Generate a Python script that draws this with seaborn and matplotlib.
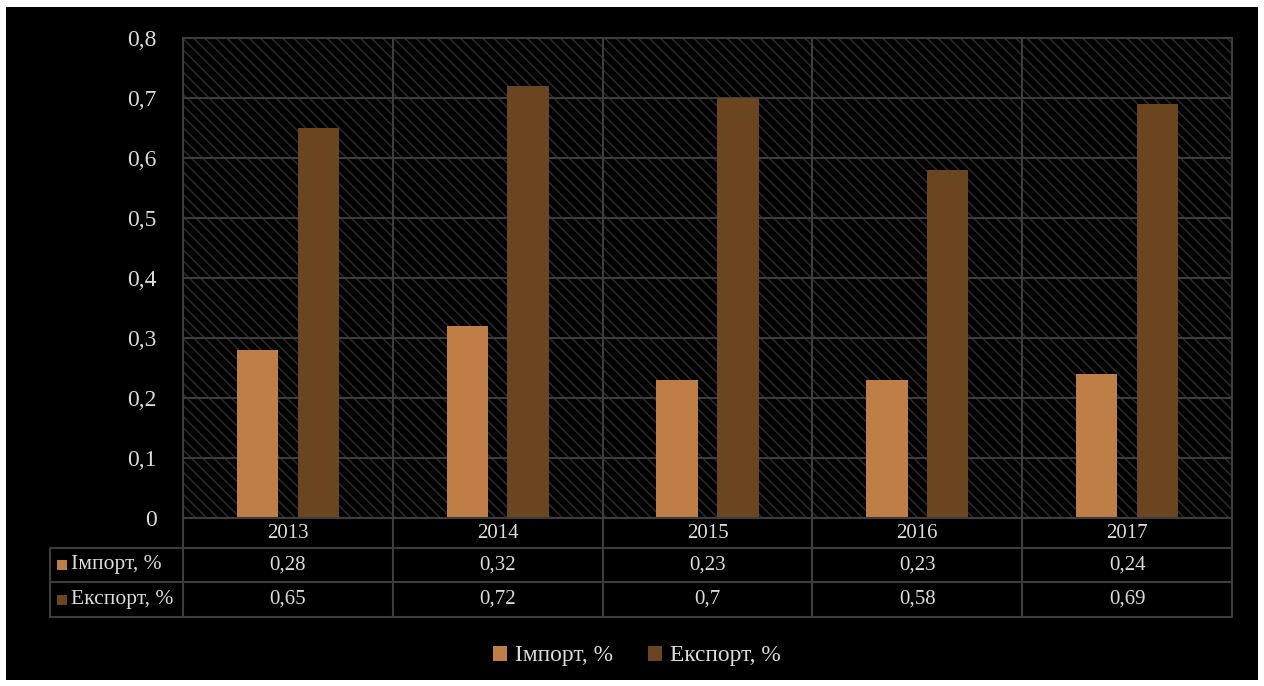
import matplotlib
matplotlib.use("Agg")
import matplotlib.pyplot as plt
import matplotlib.transforms as mtransforms
from matplotlib.patches import Rectangle, Patch
from matplotlib.lines import Line2D
import numpy as np
import pandas as pd
import seaborn as sns

# ---- data ----
years = ["2013", "2014", "2015", "2016", "2017"]
import_pct = [0.28, 0.32, 0.23, 0.23, 0.24]
export_pct = [0.65, 0.72, 0.70, 0.58, 0.69]
series_names = ["Імпорт, %", "Експорт, %"]
y_ticks = [0, 0.1, 0.2, 0.3, 0.4, 0.5, 0.6, 0.7, 0.8]

# ---- style ----
sns.set_theme(style="dark")
plt.rcParams["font.family"] = ["Liberation Serif", "DejaVu Serif"]
plt.rcParams["hatch.linewidth"] = 1.1

TXT = "#dcdcdc"
GRID = "#3d3d3d"
HATCH = "#2b2b2b"
palette = {series_names[0]: "#BE7E46", series_names[1]: "#6B451F"}
FS = 15

W, H = 1264, 686
fig = plt.figure(figsize=(W / 100, H / 100), dpi=100, facecolor="white")


def fy(px):
    """pixel row (from top) -> figure fraction"""
    return 1 - px / H


def fx(px):
    return px / W


# black chart area
fig.patches.append(Rectangle((fx(6), fy(680)), fx(1258) - fx(6), fy(7) - fy(680),
                             transform=fig.transFigure, facecolor="black",
                             edgecolor="none", zorder=-5))

left, right, top, bottom = 183, 1232, 38, 518
ax = fig.add_axes([fx(left), fy(bottom), fx(right) - fx(left), fy(top) - fy(bottom)])
ax.set_zorder(2)
ax.set_facecolor("black")
ax.add_patch(Rectangle((0, 0), 1, 1, transform=ax.transAxes, facecolor="black",
                       edgecolor=HATCH, hatch="\\\\\\", linewidth=0, zorder=0.1))

df = pd.DataFrame({
    "year": years * 2,
    "value": import_pct + export_pct,
    "series": [series_names[0]] * len(years) + [series_names[1]] * len(years),
})
sns.barplot(data=df, x="year", y="value", hue="series", hue_order=series_names,
            palette=palette, width=0.58, gap=0.32, saturation=1,
            ax=ax, legend=False, zorder=2, edgecolor="none")

ax.set_xlim(-0.5, len(years) - 0.5)
ax.set_ylim(0, 0.8)
ax.set_yticks(y_ticks)
ax.set_yticklabels([f"{v:g}".replace(".", ",") for v in y_ticks], color=TXT, fontsize=17)
ax.tick_params(axis="y", length=0, pad=19)
ax.set_xticks(np.arange(-0.5, len(years), 1.0))
ax.set_xticklabels([])
ax.tick_params(axis="x", length=0)
ax.set_xlabel("")
ax.set_ylabel("")
ax.set_axisbelow(True)
ax.grid(True, axis="both", color=GRID, linewidth=1.5, zorder=0.5)
for s in ax.spines.values():
    s.set_color(GRID)
    s.set_linewidth(1.5)

# ---- data table under the axis ----
tr = mtransforms.blended_transform_factory(ax.transData, fig.transFigure)
row_edges = [518, 548, 582, 617]
label_left = -0.5 - (left - 50) / ((right - left) / len(years))
line_kw = dict(color=GRID, linewidth=1.5, transform=tr, clip_on=False)

for yb in row_edges[1:]:
    fig.add_artist(Line2D([label_left, len(years) - 0.5], [fy(yb), fy(yb)], **line_kw))
for xb in np.arange(-0.5, len(years), 1.0):
    fig.add_artist(Line2D([xb, xb], [fy(row_edges[0]), fy(row_edges[-1])], **line_kw))
fig.add_artist(Line2D([label_left, label_left], [fy(row_edges[1]), fy(row_edges[-1])], **line_kw))

row_mid = [(row_edges[i] + row_edges[i + 1]) / 2 for i in range(3)]
for i, yr in enumerate(years):
    fig.text(i, fy(row_mid[0]), yr, transform=tr, ha="center", va="center",
             color=TXT, fontsize=FS)
for r, vals in enumerate([import_pct, export_pct]):
    ym = fy(row_mid[r + 1])
    for i, v in enumerate(vals):
        fig.text(i, ym, f"{v:g}".replace(".", ","), transform=tr, ha="center",
                 va="center", color=TXT, fontsize=FS)
    fig.patches.append(Rectangle((fx(57), ym - 0.5 * 10 / H), 10 / W, 10 / H,
                                 transform=fig.transFigure,
                                 facecolor=palette[series_names[r]], edgecolor="none"))
    fig.text(fx(71), ym, series_names[r], ha="left", va="center", color=TXT, fontsize=15.5)

# ---- legend ----
handles = [Patch(facecolor=palette[n], edgecolor="none", label=n) for n in series_names]
fig.legend(handles=handles, loc="center", bbox_to_anchor=(fx(637), fy(656)), ncol=2,
           frameon=False, fontsize=16.8, labelcolor=TXT, handlelength=0.6,
           handleheight=0.6, handletextpad=0.35, columnspacing=1.5)

fig.savefig("out.png", dpi=100, facecolor=fig.get_facecolor())
